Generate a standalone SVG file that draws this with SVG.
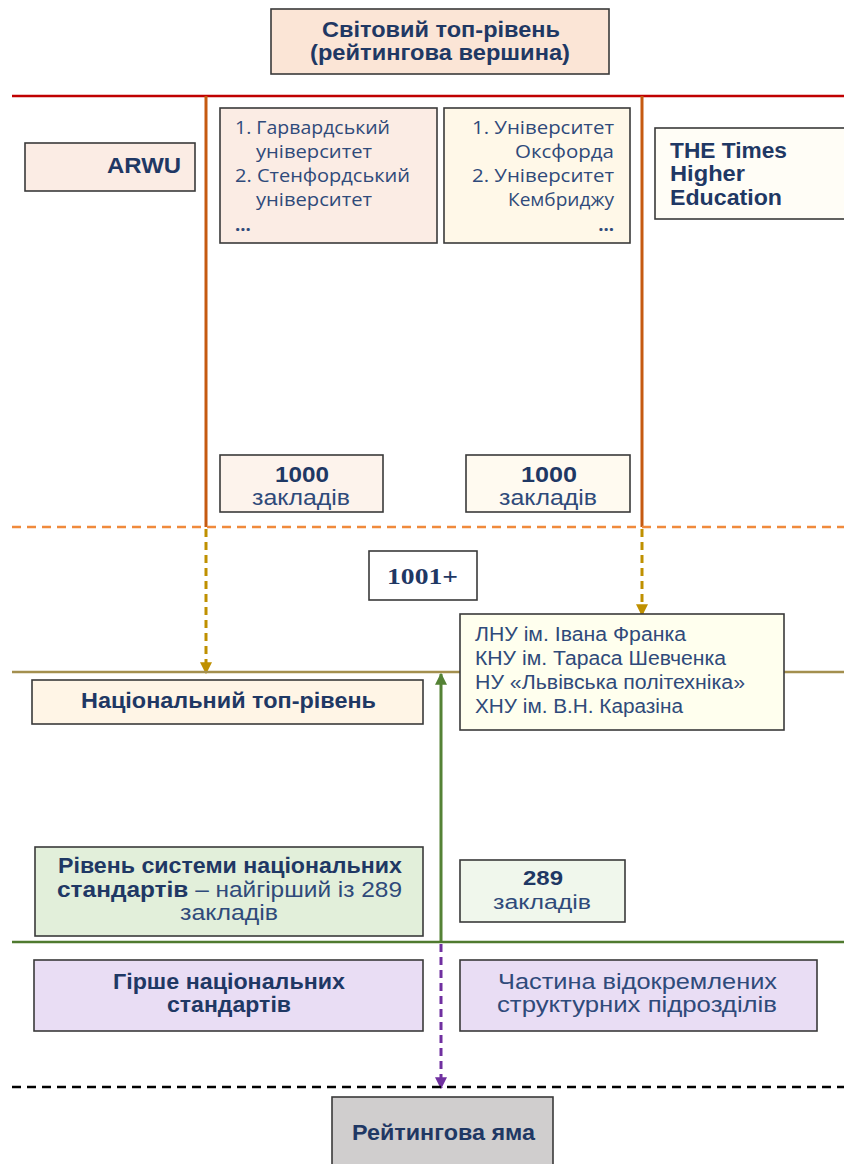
<svg xmlns="http://www.w3.org/2000/svg" width="844" height="1164" viewBox="0 0 844 1164">
<style>
.box{stroke:#3a3a3a;stroke-width:1.6}
text{font-family:"Liberation Sans",Arial,sans-serif;fill:#1f3864;font-size:22px}
.b{font-weight:bold}
.o{font-family:"Open Sans","Noto Sans",sans-serif;font-size:18.5px;fill:#2f4a7a}
.n{fill:#2f4a7a}
.s{font-size:20px}
.e{text-anchor:end}
</style>
<defs>
<marker id="ag" viewBox="0 0 10 10" refX="9" refY="5" markerWidth="4" markerHeight="4" orient="auto"><path d="M0,0L10,5L0,10z" fill="#bf9000"/></marker>
<marker id="agr" viewBox="0 0 10 10" refX="9" refY="5" markerWidth="4" markerHeight="4" orient="auto"><path d="M0,0L10,5L0,10z" fill="#548235"/></marker>
<marker id="ap" viewBox="0 0 10 10" refX="9" refY="5" markerWidth="4" markerHeight="4" orient="auto"><path d="M0,0L10,5L0,10z" fill="#7030a0"/></marker>
</defs>
<g id="connectors">
<line x1="12" y1="96" x2="844" y2="96" stroke="#c00000" stroke-width="2.5"/>
<line x1="206" y1="96" x2="206" y2="527" stroke="#c55a11" stroke-width="3"/>
<line x1="642" y1="96" x2="642" y2="527" stroke="#c55a11" stroke-width="3"/>
<line x1="12" y1="527" x2="844" y2="527" stroke="#f08a3c" stroke-width="2.5" stroke-dasharray="9,6"/>
<line x1="206" y1="529" x2="206" y2="673" stroke="#bf9000" stroke-width="3" stroke-dasharray="8,5" marker-end="url(#ag)"/>
<line x1="642" y1="529" x2="642" y2="615" stroke="#bf9000" stroke-width="3" stroke-dasharray="8,5" marker-end="url(#ag)"/>
<line x1="12" y1="672" x2="844" y2="672" stroke="#a38f4e" stroke-width="2.5"/>
<line x1="441" y1="942" x2="441" y2="674" stroke="#548235" stroke-width="3" marker-end="url(#agr)"/>
<line x1="12" y1="942" x2="844" y2="942" stroke="#4f7a2f" stroke-width="2.5"/>
<line x1="441" y1="944" x2="441" y2="1088" stroke="#7030a0" stroke-width="3" stroke-dasharray="8,5" marker-end="url(#ap)"/>
<line x1="12" y1="1087" x2="844" y2="1087" stroke="#000" stroke-width="2.5" stroke-dasharray="9,6"/>
</g>
<g id="top"><rect class="box" x="271" y="9" width="338" height="65" fill="#fbe5d6"/>
<text class="b" x="322" y="37" textLength="238" lengthAdjust="spacingAndGlyphs">Світовий топ-рівень</text>
<text class="b" x="310" y="60" textLength="260" lengthAdjust="spacingAndGlyphs">(рейтингова вершина)</text></g>
<g id="arwu"><rect class="box" x="25" y="143" width="170" height="48" fill="#fbece4"/>
<text class="b" x="107" y="173" textLength="74" lengthAdjust="spacingAndGlyphs">ARWU</text></g>
<g id="harvard"><rect class="box" x="220" y="108" width="217" height="135" fill="#fbece4"/>
<text class="o" x="235" y="134" textLength="155" lengthAdjust="spacingAndGlyphs">1. Гарвардський</text>
<text class="o" x="256" y="158" textLength="116" lengthAdjust="spacingAndGlyphs">університет</text>
<text class="o" x="235" y="182" textLength="175" lengthAdjust="spacingAndGlyphs">2. Стенфордський</text>
<text class="o" x="256" y="206" textLength="116" lengthAdjust="spacingAndGlyphs">університет</text>
<text class="o b" x="235" y="231">...</text></g>
<g id="oxford"><rect class="box" x="444" y="108" width="186" height="135" fill="#fff8e8"/>
<text class="o" x="472" y="134" textLength="142" lengthAdjust="spacingAndGlyphs">1. Університет</text>
<text class="o" x="515" y="158" textLength="99" lengthAdjust="spacingAndGlyphs">Оксфорда</text>
<text class="o" x="472" y="182" textLength="142" lengthAdjust="spacingAndGlyphs">2. Університет</text>
<text class="o" x="508" y="206" textLength="106" lengthAdjust="spacingAndGlyphs">Кембриджу</text>
<text class="o b e" x="614" y="231">...</text></g>
<g id="the"><rect class="box" x="655" y="128" width="195" height="91" fill="#fffdf6"/>
<text class="b" x="670" y="158" textLength="117" lengthAdjust="spacingAndGlyphs">THE Times</text>
<text class="b" x="670" y="181" textLength="75" lengthAdjust="spacingAndGlyphs">Higher</text>
<text class="b" x="670" y="205" textLength="112" lengthAdjust="spacingAndGlyphs">Education</text></g>
<g id="n1000a"><rect class="box" x="220" y="455" width="163" height="57" fill="#fdf3ec"/>
<text class="b" x="275" y="482" textLength="54" lengthAdjust="spacingAndGlyphs">1000</text>
<text class="n" x="252" y="505" textLength="98" lengthAdjust="spacingAndGlyphs">закладів</text></g>
<g id="n1000b"><rect class="box" x="466" y="455" width="164" height="57" fill="#fffaf0"/>
<text class="b" x="521" y="482" textLength="56" lengthAdjust="spacingAndGlyphs">1000</text>
<text class="n" x="499" y="505" textLength="98" lengthAdjust="spacingAndGlyphs">закладів</text></g>
<g id="n1001"><rect class="box" x="369" y="551" width="108" height="49" fill="#fff"/>
<text class="b" x="387" y="584" textLength="71" lengthAdjust="spacingAndGlyphs" style="font-family:'Liberation Serif',serif;font-size:23px">1001+</text></g>
<g id="ukr"><rect class="box" x="460" y="614" width="324" height="116" fill="#ffffee"/>
<text class="n s" x="475" y="641" textLength="211" lengthAdjust="spacingAndGlyphs">ЛНУ ім. Івана Франка</text>
<text class="n s" x="475" y="665" textLength="251" lengthAdjust="spacingAndGlyphs">КНУ ім. Тараса Шевченка</text>
<text class="n s" x="475" y="689" textLength="270" lengthAdjust="spacingAndGlyphs">НУ «Львівська політехніка»</text>
<text class="n s" x="475" y="713" textLength="208" lengthAdjust="spacingAndGlyphs">ХНУ ім. В.Н. Каразіна</text></g>
<g id="national"><rect class="box" x="32" y="680" width="391" height="44" fill="#fff5e6"/>
<text class="b" x="81" y="708" textLength="295" lengthAdjust="spacingAndGlyphs">Національний топ-рівень</text></g>
<g id="standard"><rect class="box" x="35" y="847" width="388" height="89" fill="#e2efda"/>
<text class="b" x="58" y="873" textLength="344" lengthAdjust="spacingAndGlyphs">Рівень системи національних</text>
<text x="57" y="897" textLength="345" lengthAdjust="spacingAndGlyphs"><tspan class="b">стандартів</tspan><tspan class="n"> – найгірший із 289</tspan></text>
<text class="n" x="180" y="920" textLength="98" lengthAdjust="spacingAndGlyphs">закладів</text></g>
<g id="n289"><rect class="box" x="460" y="860" width="165" height="62" fill="#f0f7ec"/>
<text class="b s" x="523" y="885" textLength="40" lengthAdjust="spacingAndGlyphs">289</text>
<text class="n s" x="493" y="909" textLength="98" lengthAdjust="spacingAndGlyphs">закладів</text></g>
<g id="worse"><rect class="box" x="34" y="960" width="389" height="71" fill="#e9ddf4"/>
<text class="b" x="113" y="989" textLength="232" lengthAdjust="spacingAndGlyphs">Гірше національних</text>
<text class="b" x="167" y="1012" textLength="124" lengthAdjust="spacingAndGlyphs">стандартів</text></g>
<g id="part"><rect class="box" x="460" y="960" width="357" height="71" fill="#e9ddf4"/>
<text class="n" x="498" y="989" textLength="279" lengthAdjust="spacingAndGlyphs">Частина відокремлених</text>
<text class="n" x="497" y="1012" textLength="280" lengthAdjust="spacingAndGlyphs">структурних підрозділів</text></g>
<g id="pit"><rect class="box" x="332" y="1097" width="221" height="75" fill="#d0cece"/>
<text class="b" x="352" y="1140" textLength="183" lengthAdjust="spacingAndGlyphs">Рейтингова яма</text></g>
</svg>
